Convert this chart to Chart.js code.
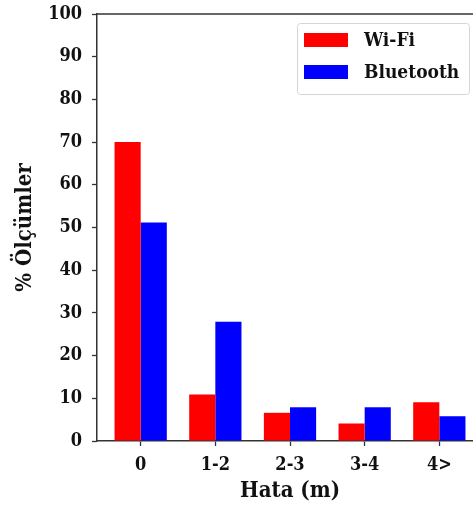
<!DOCTYPE html>
<html><head><meta charset="utf-8">
<script src="https://cdn.jsdelivr.net/npm/chart.js@4.4.0/dist/chart.umd.min.js"></script>
<style>html,body{margin:0;padding:0;overflow:hidden;background:#fff;width:473px;height:508px}
#wrap{position:absolute;left:0;top:0;width:490px;height:508px}</style>
</head><body><div id="wrap"><canvas id="c" width="490" height="508"></canvas></div>
<script>
const categories = ["0", "1-2", "2-3", "3-4", "4>"];
const wifi = [70, 10.9, 6.6, 4.1, 9.1];
const bluetooth = [51.2, 27.9, 7.9, 7.9, 5.8];
const yTicks = [0,10,20,30,40,50,60,70,80,90,100];
const seriesNames = ["Wi-Fi", "Bluetooth"];

const FONT = "'DejaVu Serif Condensed', 'DejaVu Serif', serif";
const INK = '#111';

const topSpineAndLegend = {
  id: 'extras',
  afterDraw(chart) {
    const ctx = chart.ctx, a = chart.chartArea;
    ctx.save();
    ctx.strokeStyle = '#333'; ctx.lineWidth = 1.5;
    ctx.beginPath(); ctx.moveTo(a.left, a.top); ctx.lineTo(a.right, a.top); ctx.stroke();
    // legend
    const lx = 297, ly = 23, lw = 172, lh = 71;
    ctx.fillStyle = 'rgba(255,255,255,0.8)';
    ctx.strokeStyle = '#d6d6d6'; ctx.lineWidth = 1;
    ctx.beginPath();
    if (ctx.roundRect) ctx.roundRect(lx + 0.5, ly + 0.5, lw, lh, 3); else ctx.rect(lx + 0.5, ly + 0.5, lw, lh);
    ctx.fill(); ctx.stroke();
    ctx.font = 'bold 19px ' + FONT;
    ctx.textBaseline = 'middle';
    chart.data.datasets.forEach((ds, i) => {
      const cy = ly + 17 + i * 32;
      ctx.fillStyle = ds.backgroundColor;
      ctx.fillRect(lx + 7, cy - 7, 44, 14);
      ctx.fillStyle = INK;
      ctx.fillText(ds.label, lx + 67, cy + 1);
    });
    ctx.restore();
  }
};

new Chart(document.getElementById('c'), {
  type: 'bar',
  data: {
    datasets: [
      { label: seriesNames[0], data: wifi.map((v, i) => ({x: i, y: v})), backgroundColor: '#ff0000', borderWidth: 0 },
      { label: seriesNames[1], data: bluetooth.map((v, i) => ({x: i, y: v})), backgroundColor: '#0000ff', borderWidth: 0 }
    ]
  },
  options: {
    responsive: false, animation: false,
    categoryPercentage: 0.7, barPercentage: 1.0,
    layout: { padding: { top: 14, right: 7, left: 0, bottom: 0 } },
    plugins: { legend: { display: false }, tooltip: { enabled: false } },
    scales: {
      x: {
        type: 'linear', min: -0.585, max: 4.585, offset: false,
        afterBuildTicks: s => { s.ticks = categories.map((c, i) => ({ value: i })); },
        afterFit: s => { s.height = 67; s.paddingLeft = 0; s.paddingRight = 0; },
        ticks: { callback: (v) => categories[v], font: { family: FONT, size: 18, weight: 'bold' }, color: INK, padding: 9, maxRotation: 0 },
        grid: { offset: false, drawOnChartArea: false, drawTicks: true, tickLength: 5, tickWidth: 1.3, tickColor: '#333' },
        border: { display: true, color: '#333', width: 1.5 },
        title: { display: true, text: 'Hata (m)', font: { family: FONT, size: 22, weight: 'bold' }, color: INK, padding: { top: 5 } }
      },
      y: {
        min: 0, max: 100,
        afterBuildTicks: s => { s.ticks = yTicks.map(v => ({ value: v })); },
        afterFit: s => { s.width = 97; s.paddingTop = 0; s.paddingBottom = 0; },
        ticks: { font: { family: FONT, size: 18, weight: 'bold' }, color: INK, padding: 10 },
        grid: { offset: false, drawOnChartArea: false, drawTicks: true, tickLength: 5, tickWidth: 1.3, tickColor: '#333' },
        border: { display: true, color: '#333', width: 1.5 },
        title: { display: true, text: '% Ölçümler', font: { family: FONT, size: 22, weight: 'bold' }, color: INK, padding: { bottom: 0, top: 12 } }
      }
    }
  },
  plugins: [topSpineAndLegend]
});
</script></body></html>
